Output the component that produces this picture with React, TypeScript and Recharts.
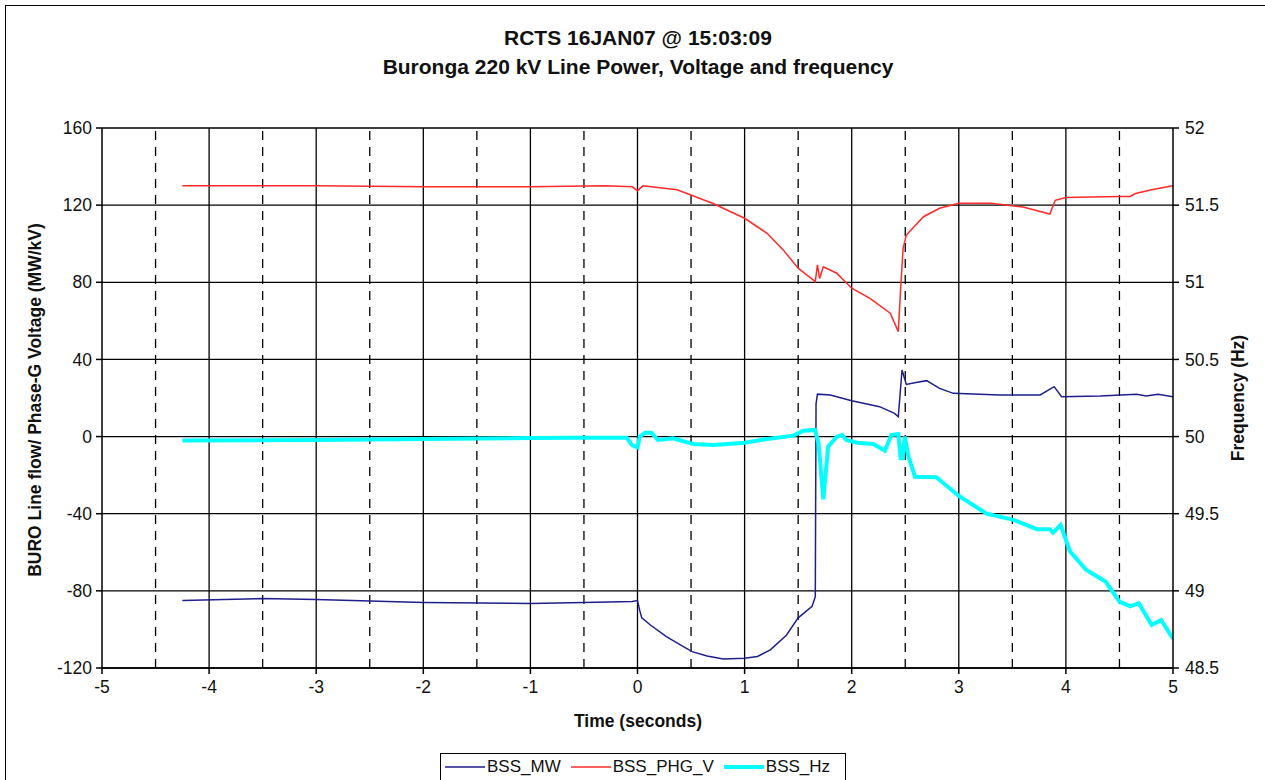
import { LineChart, Line, XAxis, YAxis, CartesianGrid, ReferenceLine } from 'recharts';

// BSS_MW (left axis)
const mwTime = [-4.25, -3.5, -3, -2, -1, -0.5, -0.05, 0, 0.02, 0.04, 0.12, 0.27, 0.4, 0.51, 0.65, 0.8, 1.0, 1.12, 1.24, 1.39, 1.5, 1.63, 1.66, 1.667, 1.68, 1.8, 2.0, 2.26, 2.4, 2.435, 2.47, 2.51, 2.6, 2.7, 2.82, 2.95, 3.38, 3.76, 3.89, 3.96, 4.32, 4.66, 4.75, 4.86, 5.0];
const mwValues = [-85, -84, -84.5, -86, -86.5, -86, -85.5, -85, -90, -94, -97.7, -103.7, -108, -111.5, -113.8, -115.3, -115, -114, -110.6, -103, -94, -88, -83, 17, 22, 21.6, 18.6, 15.5, 12, 10.3, 34.5, 27, 28, 29, 25, 22.4, 21.6, 21.6, 25.9, 20.7, 21, 22, 21, 22, 20.7];

// BSS_PHG_V (left axis)
const phgTime = [-4.25, -3, -2, -1, -0.3, -0.05, 0, 0.05, 0.37, 0.7, 1.0, 1.21, 1.36, 1.5, 1.66, 1.68, 1.7, 1.735, 1.86, 2.0, 2.17, 2.36, 2.435, 2.46, 2.48, 2.51, 2.67, 2.82, 3.0, 3.3, 3.6, 3.85, 3.9, 4.0, 4.5, 4.6, 4.65, 4.8, 5.0];
const phgValues = [130, 130, 129.5, 129.5, 130, 129.5, 127.5, 130, 128, 121, 113.2, 105.4, 96.8, 87.3, 80.3, 89, 82, 88, 84.7, 76.9, 71.7, 64, 54.4, 79.6, 97.6, 104.5, 114, 118.4, 121, 121, 119, 115.4, 122.5, 124, 124.5, 124.5, 126, 128, 130];

// BSS_Hz (right axis)
const hzTime = [-4.25, -3, -2, -1, -0.54, -0.1, -0.054, 0, 0.02, 0.07, 0.13, 0.19, 0.33, 0.52, 0.71, 1.0, 1.21, 1.455, 1.55, 1.657, 1.69, 1.735, 1.78, 1.86, 1.91, 1.95, 2.05, 2.2, 2.31, 2.37, 2.435, 2.457, 2.475, 2.495, 2.53, 2.59, 2.79, 3.0, 3.26, 3.51, 3.73, 3.85, 3.88, 3.95, 4.04, 4.19, 4.37, 4.5, 4.6, 4.68, 4.8, 4.89, 5.0];
const hzValues = [49.975, 49.978, 49.985, 49.99, 49.993, 49.993, 49.946, 49.93, 50.0, 50.025, 50.025, 49.978, 49.989, 49.952, 49.946, 49.96, 49.984, 50.006, 50.038, 50.043, 49.957, 49.594, 49.935, 49.999, 50.01, 49.978, 49.96, 49.952, 49.909, 50.01, 50.017, 49.86, 49.86, 50.0, 49.87, 49.74, 49.736, 49.615, 49.5, 49.46, 49.4, 49.4, 49.377, 49.427, 49.254, 49.135, 49.06, 48.93, 48.9, 48.92, 48.78, 48.81, 48.69];

const xTicks = [-5, -4, -3, -2, -1, 0, 1, 2, 3, 4, 5];
const leftTicks = [-120, -80, -40, 0, 40, 80, 120, 160];
const rightTicks = [48.5, 49, 49.5, 50, 50.5, 51, 51.5, 52];
const solidX = [-4, -3, -2, -1, 0, 1, 2, 3, 4];
const dashedX = [-4.5, -3.5, -2.5, -1.5, -0.5, 0.5, 1.5, 2.5, 3.5, 4.5];

const toPoints = (ts: number[], vs: number[]) => ts.map((t, i) => ({ t, v: vs[i] }));

const FONT = '"Liberation Sans", Arial, sans-serif';
const tickStyle = { fontSize: 17.5, fill: '#111', fontFamily: FONT };

const legendItems = [
  { name: 'BSS_MW', color: '#1f1f8a', width: 1.5 },
  { name: 'BSS_PHG_V', color: '#ff2a2a', width: 1.5 },
  { name: 'BSS_Hz', color: '#00ffff', width: 4 },
];

export default function App() {
  const mwData = toPoints(mwTime, mwValues);
  const phgData = toPoints(phgTime, phgValues);
  const hzData = toPoints(hzTime, hzValues);

  return (
    <div style={{ position: 'absolute', left: 0, top: 0, width: 1265, height: 780, overflow: 'hidden', background: '#fff', fontFamily: FONT }}>
      <div style={{ position: 'absolute', left: 5, top: 5, width: 1300, height: 820, border: '1.5px solid #000' }} />

      <div style={{ position: 'absolute', left: 0, width: 1276, top: 23, textAlign: 'center', fontWeight: 'bold', fontSize: 21, lineHeight: '29px', color: '#111' }}>
        <div>RCTS 16JAN07 @ 15:03:09</div>
        <div>Buronga 220 kV Line Power, Voltage and frequency</div>
      </div>

      <div style={{ position: 'absolute', left: 35, top: 400, transform: 'translate(-50%, -50%) rotate(-90deg)', whiteSpace: 'nowrap', fontWeight: 'bold', fontSize: 17.5, color: '#111' }}>
        BURO Line flow/ Phase-G Voltage (MW/kV)
      </div>
      <div style={{ position: 'absolute', left: 1238, top: 398, transform: 'translate(-50%, -50%) rotate(-90deg)', whiteSpace: 'nowrap', fontWeight: 'bold', fontSize: 17.5, color: '#111' }}>
        Frequency (Hz)
      </div>
      <div style={{ position: 'absolute', left: 638, top: 721, transform: 'translate(-50%, -50%)', whiteSpace: 'nowrap', fontWeight: 'bold', fontSize: 17.5, color: '#111' }}>
        Time (seconds)
      </div>

      <div style={{ position: 'absolute', left: 0, top: 0 }}>
        <LineChart width={1265} height={780} margin={{ top: 128, right: 32, bottom: 82, left: 42 }}>
          <CartesianGrid yAxisId="left" vertical={false} stroke="#000" strokeWidth={1.3} />
          {dashedX.map(x => (
            <ReferenceLine key={'d' + x} x={x} yAxisId="left" stroke="#000" strokeWidth={1.3} strokeDasharray="9 7" />
          ))}
          {solidX.map(x => (
            <ReferenceLine key={'s' + x} x={x} yAxisId="left" stroke="#000" strokeWidth={1.3} />
          ))}
          <XAxis
            dataKey="t"
            type="number"
            domain={[-5, 5]}
            ticks={xTicks}
            allowDataOverflow
            height={30}
            tick={tickStyle}
            tickSize={6}
            tickMargin={7}
            stroke="#000"
            strokeWidth={1.5}
          />
          <YAxis
            yAxisId="left"
            type="number"
            domain={[-120, 160]}
            ticks={leftTicks}
            width={60}
            tick={tickStyle}
            tickSize={6}
            tickMargin={4}
            stroke="#000"
            strokeWidth={1.5}
          />
          <YAxis
            yAxisId="right"
            orientation="right"
            type="number"
            domain={[48.5, 52]}
            ticks={rightTicks}
            width={60}
            tick={tickStyle}
            tickSize={6}
            tickMargin={6}
            stroke="#000"
            strokeWidth={1.5}
          />
          <Line data={mwData} dataKey="v" yAxisId="left" type="linear" stroke="#1f1f8a" strokeWidth={1.5} dot={false} isAnimationActive={false} />
          <Line data={phgData} dataKey="v" yAxisId="left" type="linear" stroke="#ff2a2a" strokeWidth={1.5} dot={false} isAnimationActive={false} />
          <Line data={hzData} dataKey="v" yAxisId="right" type="linear" stroke="#00ffff" strokeWidth={4} dot={false} isAnimationActive={false} />
        </LineChart>
      </div>

      <div style={{ position: 'absolute', left: 440, top: 753, width: 406, height: 40, border: '1.5px solid #000', background: '#fff', display: 'flex', alignItems: 'flex-start', paddingTop: 3, boxSizing: 'border-box', fontSize: 17, color: '#111' }}>
        {legendItems.map(item => (
          <div key={item.name} style={{ display: 'flex', alignItems: 'center', marginLeft: 4, marginRight: 6 }}>
            <svg width={40} height={20}>
              <line x1={0} y1={10} x2={40} y2={10} stroke={item.color} strokeWidth={item.width} />
            </svg>
            <span style={{ marginLeft: 2 }}>{item.name}</span>
          </div>
        ))}
      </div>
    </div>
  );
}
